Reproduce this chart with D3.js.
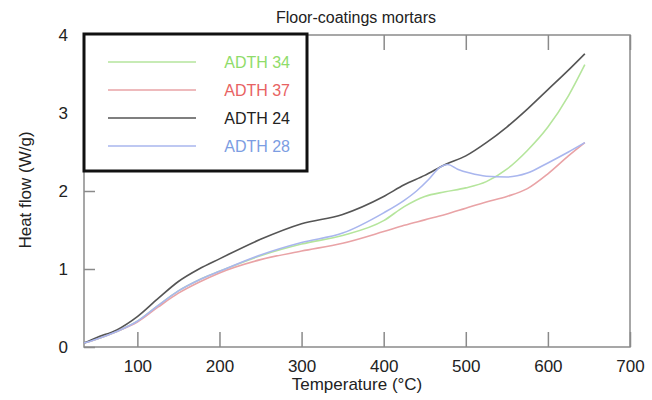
<!DOCTYPE html>
<html>
<head>
<meta charset="utf-8">
<script src="https://cdn.jsdelivr.net/npm/d3@7.7.0/dist/d3.min.js"></script>
<style>
  body { margin: 0; background: #fff; }
  text { font-family: "Liberation Sans", Arial, sans-serif; }
</style>
</head>
<body>
<div id="chart"></div>
<script>
// temperature (°C) shared by three series
const temps = [35, 50, 75, 100, 125, 150, 175, 200, 250, 300, 350, 400, 425, 450, 475, 500, 525, 550, 575, 600, 625, 645];
const adth34 = [0.05, 0.1, 0.2, 0.33, 0.53, 0.72, 0.86, 0.97, 1.17, 1.32, 1.43, 1.62, 1.8, 1.93, 1.99, 2.04, 2.12, 2.28, 2.52, 2.82, 3.22, 3.62];
const adth37 = [0.05, 0.1, 0.2, 0.32, 0.51, 0.69, 0.83, 0.95, 1.12, 1.23, 1.33, 1.48, 1.56, 1.63, 1.7, 1.78, 1.86, 1.93, 2.03, 2.22, 2.45, 2.62];
const adth24 = [0.05, 0.12, 0.22, 0.39, 0.62, 0.84, 1.0, 1.13, 1.38, 1.58, 1.7, 1.93, 2.08, 2.2, 2.34, 2.45, 2.62, 2.82, 3.05, 3.3, 3.55, 3.76];
// ADTH 28 has its own sampling around the step near 470 °C
const temps28 = [35, 50, 75, 100, 125, 150, 175, 200, 250, 300, 350, 400, 425, 440, 455, 468, 478, 490, 505, 525, 550, 575, 600, 625, 645];
const adth28 = [0.05, 0.1, 0.2, 0.33, 0.53, 0.72, 0.86, 0.97, 1.18, 1.34, 1.46, 1.72, 1.88, 2.0, 2.15, 2.3, 2.34, 2.28, 2.23, 2.19, 2.18, 2.23, 2.36, 2.5, 2.62];

const names = ["ADTH 34", "ADTH 37", "ADTH 24", "ADTH 28"];
const lineColors = ["#b5e59c", "#e9a3a6", "#555555", "#a9b6ee"];
const textColors = ["#8fdc6a", "#e86262", "#222222", "#7c9de2"];
const xTicks = [100, 200, 300, 400, 500, 600, 700];
const yTicks = [0, 1, 2, 3, 4];

const series = [
  { x: temps, y: adth34 },
  { x: temps, y: adth37 },
  { x: temps, y: adth24 },
  { x: temps28, y: adth28 }
];

const width = 652, height = 400;
const margin = { top: 35, right: 22, bottom: 53, left: 84 };
const w = width - margin.left - margin.right;
const h = height - margin.top - margin.bottom;

const svg = d3.select("#chart").append("svg")
  .attr("width", width)
  .attr("height", height);

const g = svg.append("g")
  .attr("transform", `translate(${margin.left}, ${margin.top})`);

const x = d3.scaleLinear().domain([35, 700]).range([0, w]);
const y = d3.scaleLinear().domain([0, 4]).range([h, 0]);

// frame
g.append("rect")
  .attr("width", w).attr("height", h)
  .attr("fill", "none").attr("stroke", "#8a8a8a").attr("stroke-width", 1.5);

// bottom axis with inward ticks
const xAxis = g.append("g")
  .attr("transform", `translate(0, ${h})`)
  .call(d3.axisBottom(x).tickValues(xTicks).tickSizeInner(-15).tickSizeOuter(0).tickPadding(13));
// top ticks
const xTop = g.append("g")
  .call(d3.axisTop(x).tickValues(xTicks).tickSizeInner(-15).tickSizeOuter(0).tickFormat(""));
// left axis with inward ticks
const yAxis = g.append("g")
  .call(d3.axisLeft(y).tickValues(yTicks).tickFormat(d3.format("d")).tickSizeInner(-11).tickSizeOuter(0).tickPadding(16));

[xAxis, xTop, yAxis].forEach(a => {
  a.select(".domain").remove();
  a.selectAll(".tick line").attr("stroke", "#8a8a8a").attr("stroke-width", 1.5);
  a.selectAll(".tick text").attr("fill", "#222").style("font-size", "17px");
});

// curves
const line = d3.line().curve(d3.curveMonotoneX);
series.forEach((s, i) => {
  g.append("path")
    .datum(s.x.map((t, j) => [x(t), y(s.y[j])]))
    .attr("fill", "none")
    .attr("stroke", lineColors[i])
    .attr("stroke-width", 1.6)
    .attr("d", line);
});

// legend
const legend = svg.append("g");
legend.append("rect")
  .attr("x", 84).attr("y", 34).attr("width", 223).attr("height", 137)
  .attr("fill", "#fff").attr("stroke", "#111").attr("stroke-width", 3);
names.forEach((n, i) => {
  const ly = 62 + i * 28;
  legend.append("line")
    .attr("x1", 108).attr("x2", 196).attr("y1", ly).attr("y2", ly)
    .attr("stroke", lineColors[i]).attr("stroke-width", 1.6);
  legend.append("text")
    .attr("x", 290).attr("y", ly).attr("dy", "0.35em")
    .attr("text-anchor", "end")
    .attr("fill", textColors[i])
    .style("font-size", "16px")
    .text(n);
});

// title and axis labels
svg.append("text")
  .attr("x", 356).attr("y", 23).attr("text-anchor", "middle")
  .attr("fill", "#222").style("font-size", "16px")
  .text("Floor-coatings mortars");
svg.append("text")
  .attr("x", 357).attr("y", 390).attr("text-anchor", "middle")
  .attr("fill", "#222").style("font-size", "17px")
  .text("Temperature (°C)");
svg.append("text")
  .attr("transform", "translate(31, 190) rotate(-90)")
  .attr("text-anchor", "middle")
  .attr("fill", "#222").style("font-size", "17px")
  .text("Heat flow (W/g)");
</script>
</body>
</html>
